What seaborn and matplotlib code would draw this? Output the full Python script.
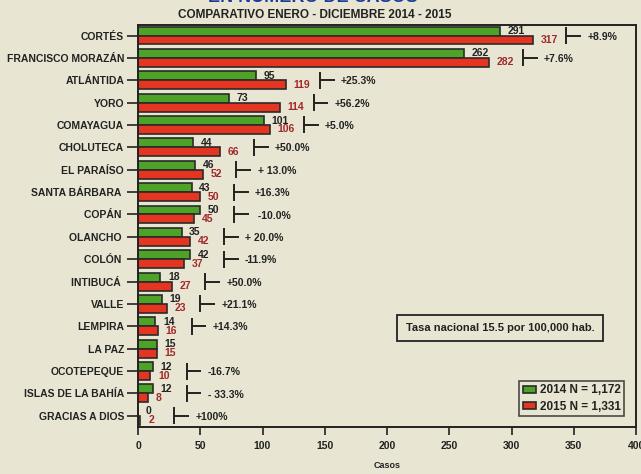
import pandas as pd
import numpy as np
import matplotlib.pyplot as plt
import seaborn as sns

departamentos = ["CORTÉS", "FRANCISCO MORAZÁN", "ATLÁNTIDA", "YORO", "COMAYAGUA",
                 "CHOLUTECA", "EL PARAÍSO", "SANTA BÁRBARA ", "COPÁN ", "OLANCHO ",
                 "COLÓN ", "INTIBUCÁ ", "VALLE", "LEMPIRA", "LA PAZ", "OCOTEPEQUE",
                 "ISLAS DE LA BAHÍA", "GRACIAS A DIOS"]
casos_2014 = [291, 262, 95, 73, 101, 44, 46, 43, 50, 35, 42, 18, 19, 14, 15, 12, 12, 0]
casos_2015 = [317, 282, 119, 114, 106, 66, 52, 50, 45, 42, 37, 27, 23, 16, 15, 10, 8, 2]
variacion = ["+8.9%", "+7.6%", "+25.3%", "+56.2%", "+5.0%", "+50.0%", "+ 13.0%",
             "+16.3%", " -10.0%", "+ 20.0%", "-11.9%", "+50.0%", "+21.1%", "+14.3%",
             "", "-16.7%", "- 33.3%", "+100%"]
anios = ["2014", "2015"]
leyenda = ["2014 N = 1,172", "2015 N = 1,331"]

bg = "#e8e6d3"
verde = "#4ca327"
rojo = "#e5341f"
tinta = "#222222"
rojo_texto = "#a0282a"

sns.set_theme(style="white")
plt.rcParams["font.family"] = ["Liberation Sans", "DejaVu Sans"]
plt.rcParams["font.weight"] = "bold"

df = pd.DataFrame({
    "depto": departamentos * 2,
    "casos": casos_2014 + casos_2015,
    "anio": [anios[0]] * len(departamentos) + [anios[1]] * len(departamentos),
})

fig = plt.figure(figsize=(6.41, 4.74), dpi=100, facecolor=bg)
ax = fig.add_axes([138 / 641, 1 - 427 / 474, 498 / 641, 402 / 474])
ax.set_facecolor(bg)

sns.barplot(data=df, x="casos", y="depto", hue="anio", orient="h",
            palette=[verde, rojo], saturation=1, width=0.8, edgecolor="#2a2a2a",
            linewidth=1.2, ax=ax, legend=True)

ax.set_xlim(0, 400)
ax.set_ylim(17.5, -0.47)
ax.set_xticks(range(0, 401, 50))
ax.set_xlabel("")
ax.set_ylabel("")
for s in ax.spines.values():
    s.set_color(tinta)
    s.set_linewidth(1.4)
ax.tick_params(axis="y", length=8, width=1.2, color=tinta, pad=2, labelsize=7.5, labelcolor=tinta)
ax.tick_params(axis="x", length=6, width=1.2, color=tinta, pad=4, labelsize=7.5, labelcolor=tinta)
ax.tick_params(left=True, bottom=True)
for lab in ax.get_xticklabels() + ax.get_yticklabels():
    lab.set_fontweight("bold")

# valores al final de cada barra
ax.bar_label(ax.containers[0], padding=5.5, color=tinta, fontsize=7.5, fontweight="bold")
ax.bar_label(ax.containers[1], padding=5.5, color=rojo_texto, fontsize=7.5, fontweight="bold")

# corchetes con la variacion porcentual
for i, txt in enumerate(variacion):
    if txt == "":
        continue
    bx = max(casos_2014[i], casos_2015[i]) + 27
    ax.plot([bx, bx], [i - 0.38, i + 0.38], color=tinta, lw=1.4, solid_capstyle="butt")
    ax.plot([bx, bx + 12], [i, i], color=tinta, lw=1.4, solid_capstyle="butt")
    ax.text(bx + 17, i + 0.05, txt, ha="left", va="center", fontsize=7.5,
            fontweight="bold", color=tinta)

ax.text(0.727, 0.246, "Tasa nacional 15.5 por 100,000 hab.", transform=ax.transAxes,
        ha="center", va="center", fontsize=8, fontweight="bold", color=tinta,
        bbox=dict(boxstyle="square,pad=0.75", facecolor=bg, edgecolor=tinta, linewidth=1.3))

handles, _ = ax.get_legend_handles_labels()
leg = ax.legend(handles, leyenda, loc="lower right", bbox_to_anchor=(0.976, 0.027),
                borderaxespad=0, frameon=True, fancybox=False, fontsize=8.5,
                handlelength=1.1, handleheight=0.6, handletextpad=0.3,
                borderpad=0.3, labelspacing=0.35, facecolor=bg, edgecolor=tinta)
leg.get_frame().set_linewidth(1.2)
for t in leg.get_texts():
    t.set_fontweight("bold")
    t.set_color(tinta)

fig.text(313 / 641, 1 - 2 / 474, "EN NÚMERO DE CASOS", ha="center", va="baseline",
         fontsize=13, fontweight="bold", color="#1c3c9c")
fig.text(315 / 641, 1 - 15 / 474, "COMPARATIVO ENERO - DICIEMBRE 2014 - 2015",
         ha="center", va="center", fontsize=8.5, fontweight="bold", color=tinta)
fig.text(387 / 641, 1 - 466 / 474, "Casos", ha="center", va="center",
         fontsize=6.5, fontweight="bold", color=tinta)

fig.savefig("out.png", dpi=100, facecolor=bg)
